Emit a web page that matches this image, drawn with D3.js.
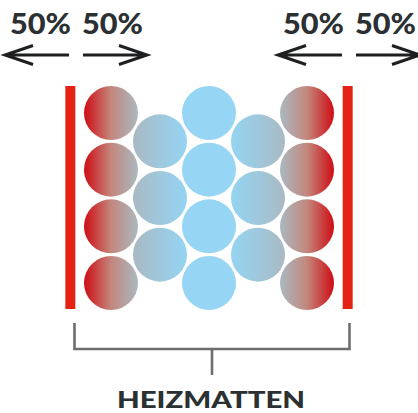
<!DOCTYPE html>
<html>
<head>
  <meta charset="utf-8">
  <title>Heizmatten</title>
  <script src="https://d3js.org/d3.v7.min.js"></script>
  <style>
    body { margin: 0; background: #fff; }
    .label { font-family: Lato, "Open Sans", sans-serif; font-weight: 900; fill: #2b3033; }
  </style>
</head>
<body>
  <svg id="chart" width="418" height="413"></svg>
  <script>
    // circle columns, left to right
    const columnKinds = ["edgeL", "innerL", "center", "innerR", "edgeR"];
    const circlesPerColumn = [4, 3, 4, 3, 4];
    const columnRowOffset = [0, 0.5, 0, 0.5, 0];

    // heat flow labels at the top
    const flowLabels = ["50%", "50%", "50%", "50%"];
    const flowDirections = ["left", "right", "left", "right"];
    const flowSide = [0, 0, 1, 1];

    const bracketLabel = "HEIZMATTEN";

    const svg = d3.select("#chart");

    // scales for circle grid
    const x = d3.scaleLinear().domain([0, 4]).range([111, 307]);
    const y = d3.scaleLinear().domain([0, 3]).range([113, 283]);
    const r = 27;

    // gradients
    const gradStops = {
      edgeL: ["#cf0c14", "#c3877c", "#aab9c1"],
      innerL: ["#a9b9c2", "#9fc8dc", "#94d4f2"],
      center: ["#96d5f3", "#96d5f3", "#96d5f3"],
      innerR: ["#94d4f2", "#9fc8dc", "#a9b9c2"],
      edgeR: ["#aab9c1", "#c3877c", "#cf0c14"]
    };
    const defs = svg.append("defs");
    Object.keys(gradStops).forEach(k => {
      const g = defs.append("linearGradient").attr("id", "g-" + k)
        .attr("x1", "0%").attr("x2", "100%").attr("y1", "0%").attr("y2", "0%");
      gradStops[k].forEach((c, i) => {
        g.append("stop").attr("offset", (i * 50) + "%").attr("stop-color", c);
      });
    });

    // build circle data
    const circles = [];
    columnKinds.forEach((kind, ci) => {
      for (let i = 0; i < circlesPerColumn[ci]; i++) {
        circles.push({ col: ci, row: i + columnRowOffset[ci], kind: kind });
      }
    });

    svg.selectAll("circle.ball")
      .data(circles)
      .enter().append("circle")
      .attr("class", "ball")
      .attr("cx", d => x(d.col))
      .attr("cy", d => y(d.row))
      .attr("r", r)
      .attr("fill", d => "url(#g-" + d.kind + ")");

    // heating mats (red bars)
    const bars = [-0.83, 4.83];
    svg.selectAll("rect.mat")
      .data(bars)
      .enter().append("rect")
      .attr("class", "mat")
      .attr("x", d => x(d) - 5)
      .attr("y", 86)
      .attr("width", 10)
      .attr("height", 223)
      .attr("fill", "#e32214");

    // arrows + labels
    const sideX = d3.scaleOrdinal().domain([0, 1]).range([76, 349]);
    const arrowY = 55;
    const arrowG = svg.append("g")
      .attr("fill", "none").attr("stroke", "#1e1f20")
      .attr("stroke-width", 3);
    flowLabels.forEach((lab, i) => {
      const cx = sideX(flowSide[i]);
      const dir = flowDirections[i];
      const tail = dir === "left" ? cx - 7 : cx + 7;
      const tip = dir === "left" ? cx - 71 : cx + 71;
      const back = dir === "left" ? tip + 28 : tip - 28;
      arrowG.append("path")
        .attr("d", `M${tail},${arrowY}H${tip}M${back},${arrowY - 9.5}L${tip},${arrowY}L${back},${arrowY + 9.5}`)
        .attr("stroke-linejoin", "miter");
      svg.append("text")
        .attr("class", "label")
        .attr("x", dir === "left" ? cx - 35.5 : cx + 36.5)
        .attr("y", 34)
        .attr("text-anchor", "middle")
        .attr("font-size", 29)
        .attr("textLength", 61)
        .attr("lengthAdjust", "spacingAndGlyphs")
        .text(lab);
    });

    // bracket
    const bx0 = 74.5, bx1 = 349.5, by = 349;
    svg.append("path")
      .attr("d", `M${bx0},323V${by}H${bx1}V323M${(bx0 + bx1) / 2},${by}V375`)
      .attr("fill", "none")
      .attr("stroke", "#6e6e6e")
      .attr("stroke-width", 2.6);

    svg.append("text")
      .attr("class", "label")
      .attr("x", 211)
      .attr("y", 408)
      .attr("text-anchor", "middle")
      .attr("font-size", 23.5)
      .attr("textLength", 188)
      .attr("lengthAdjust", "spacingAndGlyphs")
      .text(bracketLabel);
  </script>
</body>
</html>
